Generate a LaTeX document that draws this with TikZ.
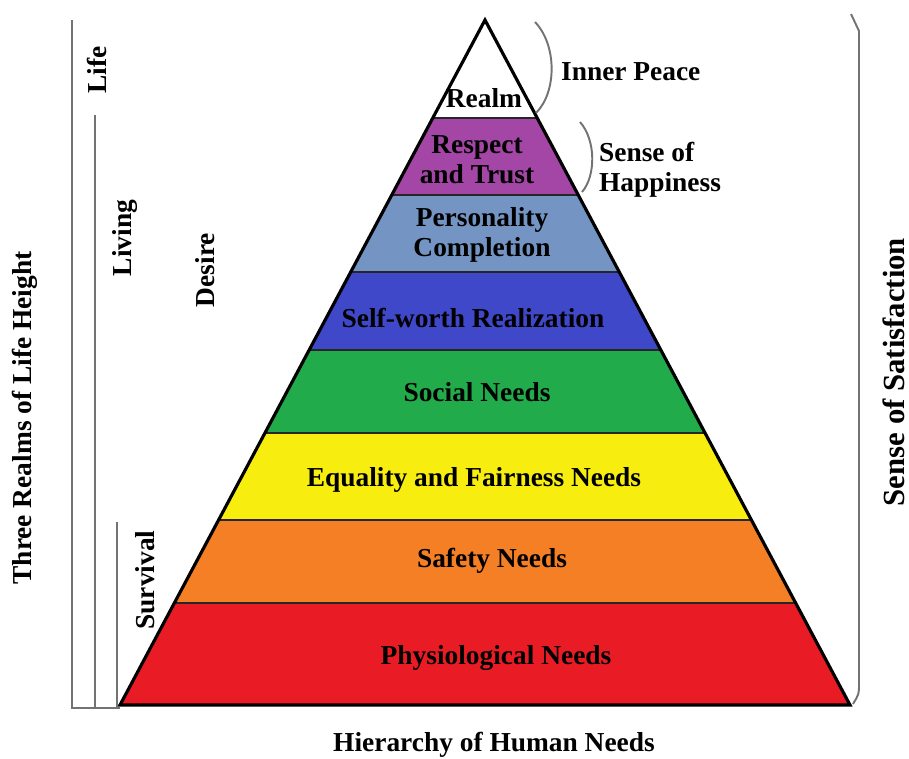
\documentclass[tikz,border=0pt]{standalone}
\usepackage{fontspec}
\setmainfont{Liberation Serif}
\definecolor{trustpurple}{HTML}{A346A6}
\definecolor{personblue}{HTML}{7494C4}
\definecolor{worthblue}{HTML}{3E48C8}
\definecolor{socialgreen}{HTML}{22AB4B}
\definecolor{fairyellow}{HTML}{F7EE0F}
\definecolor{safeorange}{HTML}{F57F25}
\definecolor{bodyred}{HTML}{E91C25}
\begin{document}
\begin{tikzpicture}[x=0.02cm, y=-0.02cm,
    txt/.style={font=\fontsize{15.6}{17}\selectfont\bfseries, align=center, inner sep=1pt},
    realmline/.style={draw=black!55, line width=1.1pt},
    bandline/.style={draw=black!85, line width=0.9pt}]
    \useasboundingbox (0,0) rectangle (909,758);
    % Pyramid corners
    \coordinate (apex) at (485,20);
    \coordinate (bl) at (120,705);
    \coordinate (br) at (850,705);

    % Bands
    \foreach \ytop/\ybot/\col in {118/195/trustpurple, 195/272/personblue, 272/350/worthblue,
        350/433/socialgreen, 433/520/fairyellow, 520/603/safeorange, 603/705/bodyred} {
        \pgfmathsetmacro\lt{485-0.533*(\ytop-20)}
        \pgfmathsetmacro\rt{485+0.533*(\ytop-20)}
        \pgfmathsetmacro\lb{485-0.533*(\ybot-20)}
        \pgfmathsetmacro\rb{485+0.533*(\ybot-20)}
        \fill[\col] (\lt,\ytop) -- (\rt,\ytop) -- (\rb,\ybot) -- (\lb,\ybot) -- cycle;
        \draw[bandline] (\lt,\ytop) -- (\rt,\ytop);
    }
    \draw[line width=1.8pt, line join=miter] (apex) -- (br) -- (bl) -- cycle;

    % Nodes
    \node[txt] (realm) at (484,98) {Realm};
    \node[txt] (trust) at (477,160) {Respect\\and Trust};
    \node[txt] (person) at (482,235) {Personality\\Completion};
    \node[txt] (worth) at (473,318) {Self-worth Realization};
    \node[txt] (social) at (477,392) {Social Needs};
    \node[txt] (fair) at (474,480) {Equality and Fairness Needs};
    \node[txt] (safety) at (492,561) {Safety Needs};
    \node[txt] (body) at (496,658) {Physiological Needs};
    \node[txt, anchor=west] (peace) at (559,72) {Inner Peace};
    \node[txt, anchor=west, align=left] (happy) at (597,170) {Sense of\\Happiness};
    \node[txt, rotate=90] (life) at (97,70) {Life};
    \node[txt, rotate=90] (living) at (125,238) {Living};
    \node[txt, rotate=90] (desire) at (205,270) {Desire};
    \node[txt, rotate=90] (survival) at (145,580) {Survival};
    \node[txt, rotate=90] (realms) at (25,418) {Three Realms of Life Height};
    \node[txt, rotate=90, font=\fontsize{17.5}{19}\selectfont\bfseries] (satisfy) at (894,372) {Sense of Satisfaction};
    \node[txt] (title) at (494,745) {Hierarchy of Human Needs};

    % Realm lines
    \coordinate (lifetop) at (72,20);
    \coordinate (livingtop) at (95,115);
    \coordinate (survtop) at (117,522);
    \draw[realmline] (lifetop) -- (72,708) -- (bl |- 0,708);
    \draw[realmline] (livingtop) -- (95,708);
    \draw[realmline] (survtop) -- (117,708);

    % Arcs
    \draw[realmline] (535,22) .. controls (557,45) and (557,92) .. (536,113);
    \draw[realmline] (580,122) .. controls (596,140) and (596,176) .. (582,192);
    \draw[realmline] (851,14) -- (859,31) -- (859,684) .. controls (859,694) .. (853,704);
\end{tikzpicture}
\end{document}
